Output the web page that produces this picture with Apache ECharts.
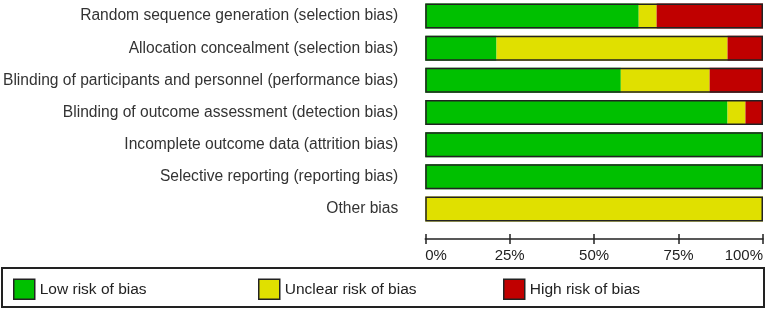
<!DOCTYPE html>
<html>
<head>
<meta charset="utf-8">
<script src="https://cdn.jsdelivr.net/npm/echarts@6/dist/echarts.min.js"></script>
<style>
html,body{margin:0;padding:0;background:#fff;}
#chart{width:767px;height:310px;}
</style>
</head>
<body>
<div id="chart"></div>
<script>
const categories = [
  'Random sequence generation (selection bias)',
  'Allocation concealment (selection bias)',
  'Blinding of participants and personnel (performance bias)',
  'Blinding of outcome assessment (detection bias)',
  'Incomplete outcome data (attrition bias)',
  'Selective reporting (reporting bias)',
  'Other bias'
];
const lowRisk     = [63.2, 21.1, 57.9, 89.5, 100, 100, 0];
const unclearRisk = [5.3, 68.4, 26.3, 5.3, 0, 0, 100];
const highRisk    = [31.5, 10.5, 15.8, 5.2, 0, 0, 0];
const totals      = [100, 100, 100, 100, 100, 100, 100];
const tickLabels  = ['0%', '25%', '50%', '75%', '100%'];
const seriesNames = ['Low risk of bias', 'Unclear risk of bias', 'High risk of bias'];
const seriesColors = ['#00C000', '#E0E000', '#C00000'];

const FONT = 'Liberation Sans, Arial, sans-serif';
const chart = echarts.init(document.getElementById('chart'), null, {renderer: 'canvas'});

const xBase = {
  type: 'value', min: 0, max: 100, interval: 25, gridIndex: 0,
  position: 'bottom', offset: 14,
  splitLine: {show: false}
};

const stackSeries = [lowRisk, unclearRisk, highRisk].map((d, i) => ({
  name: seriesNames[i], type: 'bar', stack: 'risk', data: d,
  barWidth: 25, barGap: '-100%',
  itemStyle: {color: seriesColors[i], borderWidth: 0},
  z: 2, silent: true
}));

const legendPos = [13, 258, 503];
const legends = seriesNames.map((n, i) => ({
  data: [n], left: legendPos[i], top: 278.5, padding: 0,
  itemWidth: 21, itemHeight: 20, icon: 'rect',
  itemStyle: {borderColor: '#222', borderWidth: 1.5},
  textStyle: {fontFamily: FONT, fontSize: 15.5, color: '#222'},
  selectedMode: false
}));

chart.setOption({
  animation: false,
  backgroundColor: '#fff',
  grid: {left: 425, right: 4, top: -2, height: 227, containLabel: false},
  xAxis: [
    Object.assign({}, xBase, {
      axisLine: {show: true, lineStyle: {color: '#222', width: 1.5}},
      axisTick: {show: true, inside: false, length: 5, lineStyle: {color: '#222', width: 1.5}},
      axisLabel: {
        show: true, margin: 9, fontFamily: FONT, fontSize: 15, color: '#222',
        alignMinLabel: 'left', alignMaxLabel: 'right',
        formatter: v => tickLabels[Math.round(v / 25)]
      }
    }),
    Object.assign({}, xBase, {
      axisLine: {show: false},
      axisTick: {show: true, inside: true, length: 5, lineStyle: {color: '#222', width: 1.5}},
      axisLabel: {show: false}
    })
  ],
  yAxis: {
    type: 'category', data: categories, inverse: true,
    axisLine: {show: false}, axisTick: {show: false}, splitLine: {show: false},
    axisLabel: {margin: 27, fontFamily: FONT, fontSize: 15.6, color: '#333'}
  },
  legend: legends,
  graphic: [{
    type: 'rect',
    shape: {x: 2, y: 268, width: 762, height: 39},
    style: {fill: 'none', stroke: '#222', lineWidth: 2}
  }],
  series: stackSeries.concat([{
    name: 'outline', type: 'bar', data: totals,
    barWidth: 25, barGap: '-100%',
    itemStyle: {color: 'rgba(0,0,0,0)', borderColor: '#222', borderWidth: 1.5},
    z: 5, silent: true
  }])
});
</script>
</body>
</html>
